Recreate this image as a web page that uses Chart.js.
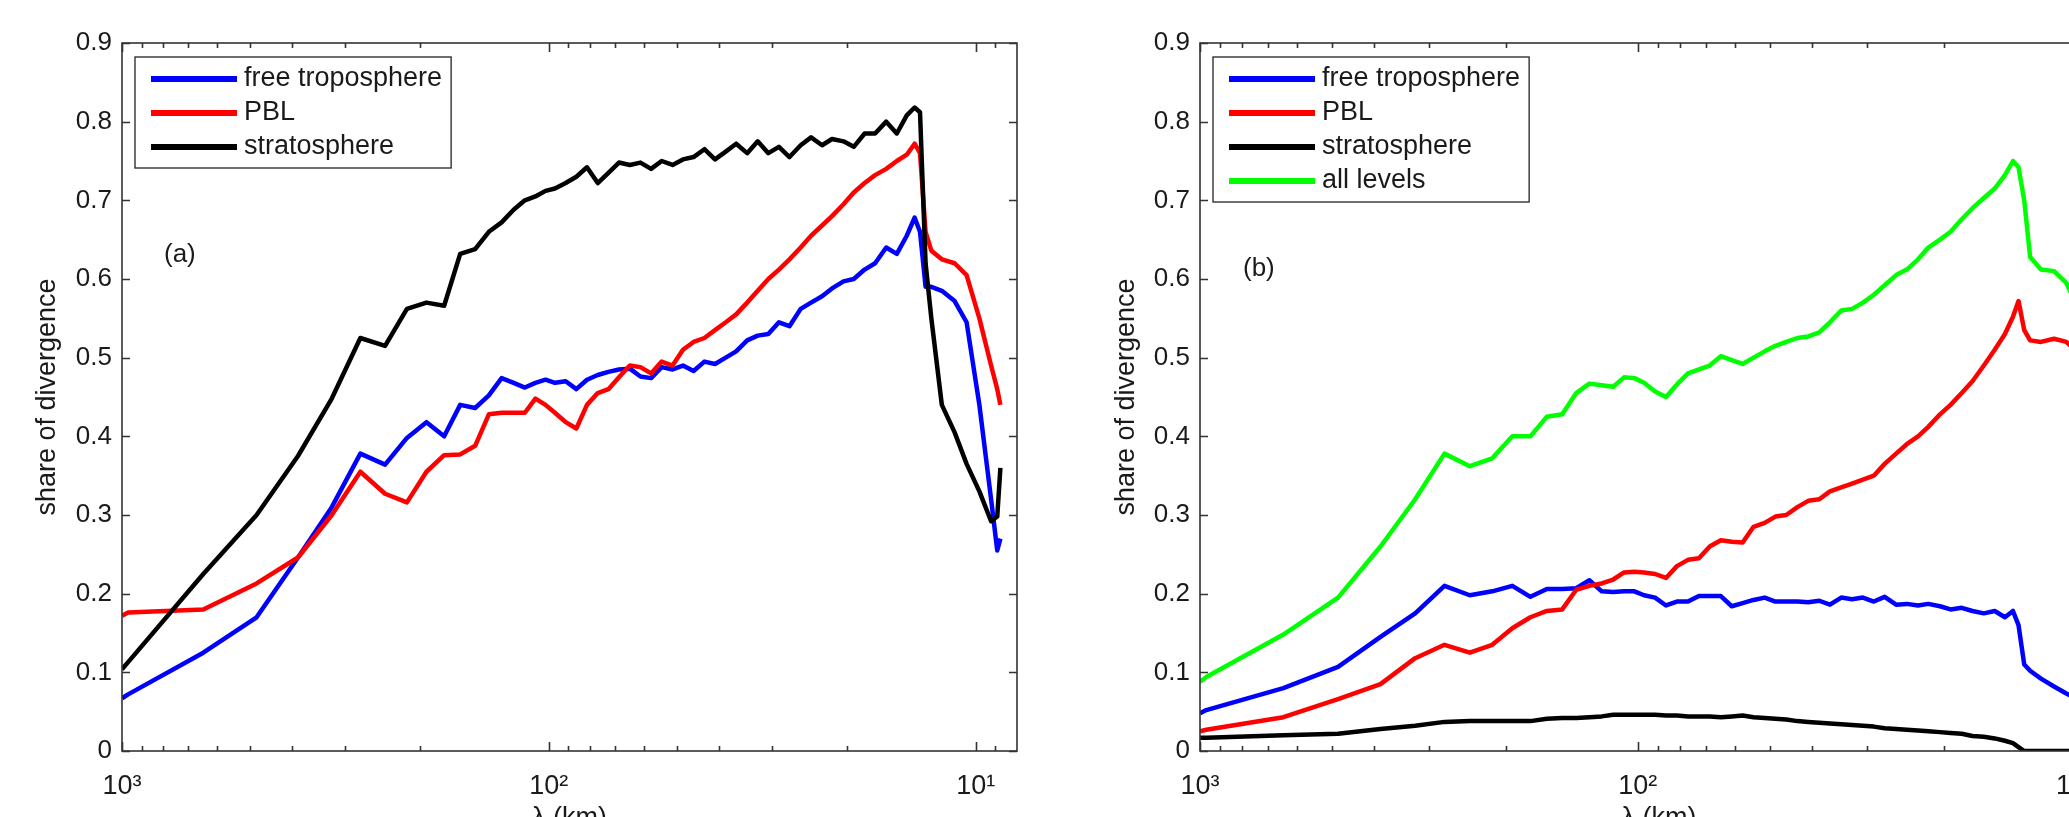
<!DOCTYPE html>
<html>
<head>
<meta charset="utf-8">
<script src="https://cdn.jsdelivr.net/npm/chart.js@4.4.1/dist/chart.umd.min.js"></script>
<style>
  html, body { margin: 0; padding: 0; background: #fff; overflow: hidden; width: 2069px; height: 817px; }
  #left { position: absolute; left: 0; top: 0; }
  #right { position: absolute; left: 1035px; top: 0; }
</style>
</head>
<body>
<canvas id="left" width="1035" height="840"></canvas>
<canvas id="right" width="1101" height="840"></canvas>
<script>
// wavelength (km) of every sample
const lambdaKm = [1000, 967.5, 645, 483.8, 387, 322.5, 276.4, 241.9, 215, 193.5, 175.9, 161.3, 148.8, 138.2, 129, 120.9, 113.8, 107.5, 101.8, 96.75,
  91.3, 86.2, 81.4, 76.8, 72.5, 68.5, 64.6, 61.0, 57.6, 54.4, 51.3, 48.5, 45.8, 43.2, 40.8, 38.5, 36.4, 34.3, 32.4, 30.6, 28.9, 27.3, 25.7, 24.3, 22.9, 21.7, 20.4, 19.3, 18.2, 17.2, 16.2, 15.3, 14.5,
  13.9, 13.5, 13.1, 12.7, 12.0, 11.2, 10.5, 9.8, 9.2, 8.9, 8.75];

// panel (a)
const freeTropA = [0.067, 0.072, 0.125, 0.17, 0.246, 0.31, 0.378, 0.364, 0.398, 0.418, 0.40, 0.44, 0.436, 0.452, 0.474, 0.468, 0.462, 0.468, 0.472, 0.468,
  0.47, 0.46, 0.472, 0.478, 0.482, 0.485, 0.486, 0.476, 0.474, 0.488, 0.485, 0.49, 0.483, 0.495, 0.492, 0.50, 0.508, 0.522, 0.528, 0.53, 0.545, 0.54, 0.562, 0.57, 0.578, 0.588, 0.597, 0.60, 0.612, 0.62, 0.64, 0.632, 0.655,
  0.678, 0.66, 0.59, 0.59, 0.585, 0.572, 0.545, 0.44, 0.32, 0.255, 0.27];
const pblA = [0.172, 0.176, 0.18, 0.213, 0.246, 0.30, 0.355, 0.327, 0.316, 0.355, 0.376, 0.377, 0.388, 0.428, 0.43, 0.43, 0.43, 0.448, 0.44, 0.43,
  0.418, 0.41, 0.44, 0.455, 0.46, 0.475, 0.49, 0.488, 0.48, 0.495, 0.49, 0.51, 0.52, 0.525, 0.535, 0.545, 0.555, 0.57, 0.585, 0.60, 0.612, 0.625, 0.64, 0.655, 0.668, 0.68, 0.695, 0.71, 0.722, 0.732, 0.74, 0.75, 0.758,
  0.772, 0.76, 0.66, 0.636, 0.625, 0.62, 0.605, 0.55, 0.49, 0.46, 0.44];
const stratA = [0.104, 0.113, 0.225, 0.30, 0.375, 0.448, 0.525, 0.515, 0.562, 0.57, 0.566, 0.632, 0.638, 0.66, 0.672, 0.688, 0.70, 0.705, 0.712, 0.715,
  0.722, 0.73, 0.742, 0.722, 0.735, 0.748, 0.745, 0.748, 0.74, 0.75, 0.745, 0.752, 0.755, 0.765, 0.752, 0.762, 0.772, 0.76, 0.775, 0.76, 0.768, 0.755, 0.77, 0.78, 0.77, 0.778, 0.775, 0.768, 0.785, 0.785, 0.80, 0.785, 0.808,
  0.818, 0.812, 0.62, 0.55, 0.44, 0.405, 0.365, 0.33, 0.292, 0.298, 0.36];

// panel (b) - runs past the right edge of the picture
const freeTropB = [0.048, 0.052, 0.08, 0.107, 0.145, 0.175, 0.21, 0.198, 0.203, 0.21, 0.196, 0.206, 0.206, 0.207, 0.217, 0.203, 0.202, 0.203, 0.203, 0.198,
  0.195, 0.185, 0.19, 0.19, 0.197, 0.197, 0.197, 0.184, 0.188, 0.192, 0.195, 0.19, 0.19, 0.19, 0.189, 0.191, 0.186, 0.195, 0.193, 0.195, 0.19, 0.196, 0.186, 0.187, 0.185, 0.187, 0.184, 0.18, 0.182, 0.178, 0.175, 0.178, 0.17,
  0.178, 0.16, 0.11, 0.102, 0.092, 0.082, 0.073, 0.065];
const pblB = [0.025, 0.027, 0.043, 0.066, 0.085, 0.118, 0.135, 0.125, 0.135, 0.156, 0.17, 0.178, 0.18, 0.205, 0.21, 0.213, 0.218, 0.227, 0.228, 0.227,
  0.225, 0.22, 0.235, 0.243, 0.245, 0.26, 0.268, 0.266, 0.265, 0.285, 0.29, 0.298, 0.30, 0.31, 0.318, 0.32, 0.33, 0.335, 0.34, 0.345, 0.35, 0.365, 0.378, 0.39, 0.40, 0.412, 0.428, 0.44, 0.455, 0.47, 0.49, 0.51, 0.53,
  0.552, 0.572, 0.535, 0.522, 0.52, 0.524, 0.52, 0.505];
const stratB = [0.017, 0.017, 0.02, 0.022, 0.028, 0.032, 0.037, 0.038, 0.038, 0.038, 0.038, 0.041, 0.042, 0.042, 0.043, 0.044, 0.046, 0.046, 0.046, 0.046,
  0.046, 0.045, 0.045, 0.044, 0.044, 0.044, 0.043, 0.044, 0.045, 0.043, 0.042, 0.041, 0.040, 0.038, 0.037, 0.036, 0.035, 0.034, 0.033, 0.032, 0.031, 0.029, 0.028, 0.027, 0.026, 0.025, 0.024, 0.023, 0.022, 0.019, 0.018, 0.016, 0.013,
  0.01, 0.005, 0, 0, 0, 0, 0, 0];
const allLevelsB = [0.088, 0.094, 0.148, 0.195, 0.26, 0.32, 0.378, 0.362, 0.372, 0.40, 0.40, 0.425, 0.428, 0.455, 0.467, 0.465, 0.463, 0.475, 0.474, 0.468,
  0.457, 0.45, 0.466, 0.48, 0.485, 0.49, 0.502, 0.497, 0.492, 0.50, 0.508, 0.515, 0.52, 0.525, 0.527, 0.532, 0.545, 0.56, 0.562, 0.57, 0.58, 0.592, 0.605, 0.612, 0.625, 0.64, 0.65, 0.66, 0.676, 0.69, 0.703, 0.715, 0.732,
  0.75, 0.742, 0.70, 0.628, 0.612, 0.61, 0.595, 0.56];

const xTicks = [9, 10, 20, 30, 40, 50, 60, 70, 80, 90, 100, 200, 300, 400, 500, 600, 700, 800, 900, 1000];
const xTickLabels = { 10: '10\u00B9', 100: '10\u00B2', 1000: '10\u00B3' };
const yTicks = [0, 0.1, 0.2, 0.3, 0.4, 0.5, 0.6, 0.7, 0.8, 0.9];
const yTickLabels = ['0', '0.1', '0.2', '0.3', '0.4', '0.5', '0.6', '0.7', '0.8', '0.9'];

const FONT = '"Liberation Sans", Arial, Helvetica, sans-serif';
const INK = '#1a1a1a';
Chart.defaults.font.family = FONT;
Chart.defaults.color = INK;

// matlab style box with inward ticks on all four sides
const matlabAxes = {
  id: 'matlabAxes',
  afterDraw(chart) {
    const { ctx, chartArea: a, scales: { x, y } } = chart;
    ctx.save();
    ctx.strokeStyle = '#333';
    ctx.lineWidth = 1.6;
    ctx.beginPath();
    x.ticks.forEach(t => {
      const px = Math.round(x.getPixelForValue(t.value)) + 0.5;
      const len = xTickLabels[t.value] ? 9 : 5;
      ctx.moveTo(px, a.bottom); ctx.lineTo(px, a.bottom - len);
      ctx.moveTo(px, a.top); ctx.lineTo(px, a.top + len);
    });
    y.ticks.forEach(t => {
      const py = Math.round(y.getPixelForValue(t.value)) + 0.5;
      ctx.moveTo(a.left, py); ctx.lineTo(a.left + 8, py);
      ctx.moveTo(a.right, py); ctx.lineTo(a.right - 8, py);
    });
    ctx.stroke();
    ctx.strokeRect(a.left, a.top, a.right - a.left, a.bottom - a.top);
    ctx.restore();
  }
};

// legend inside a framed box, top-left of the axes
const boxLegend = {
  id: 'boxLegend',
  afterDatasetsDraw(chart) {
    const { ctx, chartArea: a } = chart;
    const sets = chart.data.datasets;
    ctx.save();
    ctx.font = '27px ' + FONT;
    const textW = Math.max(...sets.map(d => ctx.measureText(d.label).width));
    const x0 = a.left + 13, y0 = a.top + 14;
    const w = 109 + textW + 9, h = sets.length * 34 + 9;
    ctx.fillStyle = '#fff';
    ctx.fillRect(x0, y0, w, h);
    ctx.strokeStyle = '#222';
    ctx.lineWidth = 1.3;
    ctx.strokeRect(x0, y0, w, h);
    sets.forEach((d, i) => {
      const yy = y0 + 22 + i * 34;
      ctx.strokeStyle = d.borderColor;
      ctx.lineWidth = 6;
      ctx.beginPath();
      ctx.moveTo(x0 + 16, yy); ctx.lineTo(x0 + 102, yy);
      ctx.stroke();
      ctx.fillStyle = INK;
      ctx.textBaseline = 'middle';
      ctx.textAlign = 'left';
      ctx.fillText(d.label, x0 + 109, yy);
    });
    ctx.restore();
  }
};

const panelLabel = {
  id: 'panelLabel',
  afterDraw(chart, args, opts) {
    const { ctx, chartArea: a } = chart;
    ctx.save();
    ctx.font = '26px ' + FONT;
    ctx.fillStyle = INK;
    ctx.textBaseline = 'middle';
    ctx.fillText(opts.text, a.left + opts.dx, a.top + opts.dy);
    ctx.restore();
  }
};

function makeChart(id, series, yAxisWidth, yTitlePad, label) {
  return new Chart(document.getElementById(id), {
    type: 'line',
    data: {
      datasets: series.map((s, i) => ({
        label: s.label,
        data: s.values.map((v, j) => ({ x: lambdaKm[j], y: v })),
        borderColor: s.color,
        borderWidth: 4.5,
        pointRadius: 0,
        tension: 0,
        borderJoinStyle: 'round',
        order: series.length - i
      }))
    },
    options: {
      responsive: false,
      animation: false,
      devicePixelRatio: 1,
      layout: { padding: { top: 43, right: 18, left: 0, bottom: 0 } },
      plugins: {
        legend: { display: false },
        tooltip: { enabled: false },
        panelLabel: label
      },
      scales: {
        x: {
          type: 'logarithmic',
          min: 8,
          max: 1000,
          reverse: true,
          afterBuildTicks: (scale) => { scale.ticks = xTicks.map(v => ({ value: v })); },
          afterFit: (scale) => { scale.height = 89; },
          grid: { display: false, drawTicks: false },
          border: { display: false },
          ticks: {
            autoSkip: false,
            maxRotation: 0,
            padding: 19,
            font: { size: 27 },
            color: INK,
            callback: (v) => xTickLabels[v] || ''
          },
          title: { display: true, text: '\u03BB (km)', font: { size: 27 }, color: INK, padding: { bottom: 5 } }
        },
        y: {
          min: 0,
          max: 0.9,
          afterBuildTicks: (scale) => { scale.ticks = yTicks.map(v => ({ value: v })); },
          afterFit: (scale) => { scale.width = yAxisWidth; },
          grid: { display: false, drawTicks: false },
          border: { display: false },
          ticks: {
            padding: 10,
            font: { size: 26 },
            color: INK,
            callback: (v, i) => yTickLabels[i]
          },
          title: { display: true, text: 'share of divergence', font: { size: 27 }, color: INK, padding: { top: yTitlePad } }
        }
      }
    },
    plugins: [matlabAxes, boxLegend, panelLabel]
  });
}

makeChart('left', [
  { label: 'free troposphere', values: freeTropA, color: '#0000ff' },
  { label: 'PBL', values: pblA, color: '#ff0000' },
  { label: 'stratosphere', values: stratA, color: '#000000' }
], 122, 31, { text: '(a)', dx: 42, dy: 212 });

makeChart('right', [
  { label: 'free troposphere', values: freeTropB, color: '#0000ff' },
  { label: 'PBL', values: pblB, color: '#ff0000' },
  { label: 'stratosphere', values: stratB, color: '#000000' },
  { label: 'all levels', values: allLevelsB, color: '#00ff00' }
], 165, 75, { text: '(b)', dx: 43, dy: 226 });
</script>
</body>
</html>
